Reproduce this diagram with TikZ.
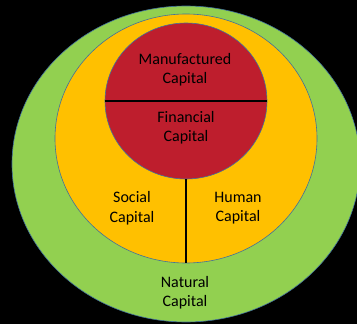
\documentclass[tikz,border=0pt]{standalone}
\usepackage{fontspec}
\setmainfont{Carlito}
\usetikzlibrary{shapes.geometric}
\definecolor{natgreen}{HTML}{92D050}
\definecolor{humorange}{HTML}{FFC000}
\definecolor{finred}{HTML}{BE1E2D}
\definecolor{rimblue}{HTML}{41719C}
\tikzset{
  ring/.style={ellipse, draw=rimblue, line width=0.6pt, inner sep=0pt},
  label/.style={align=center, text=black, font=\fontsize{16}{19.5}\selectfont},
  divider/.style={draw=black, line width=1.1pt}
}
\begin{document}
\begin{tikzpicture}[x=1pt,y=-1pt]
\fill[black] (0,0) rectangle (357,324);
\useasboundingbox (0,0) rectangle (357,324);
\clip (0,0) rectangle (357,324);
\node[ring, fill=natgreen, minimum width=348pt, minimum height=316pt] (natural) at (186,164) {};
\node[ring, fill=humorange, minimum width=262pt, minimum height=249pt] (orange) at (186,138.5) {};
\node[ring, fill=finred, minimum width=162pt, minimum height=156pt] (red) at (186,101) {};
\draw[divider] (red.west) -- (red.east);
\draw[divider] (red.south) -- (orange.south);
\node[label] (manu) at (185,69.5) {Manufactured\\Capital};
\node[label] (fin) at (186,127.5) {Financial\\Capital};
\node[label] (soc) at (132,208) {Social\\Capital};
\node[label] (hum) at (238,208) {Human\\Capital};
\node[label] (nat) at (185,292.5) {Natural\\Capital};
\end{tikzpicture}
\end{document}
